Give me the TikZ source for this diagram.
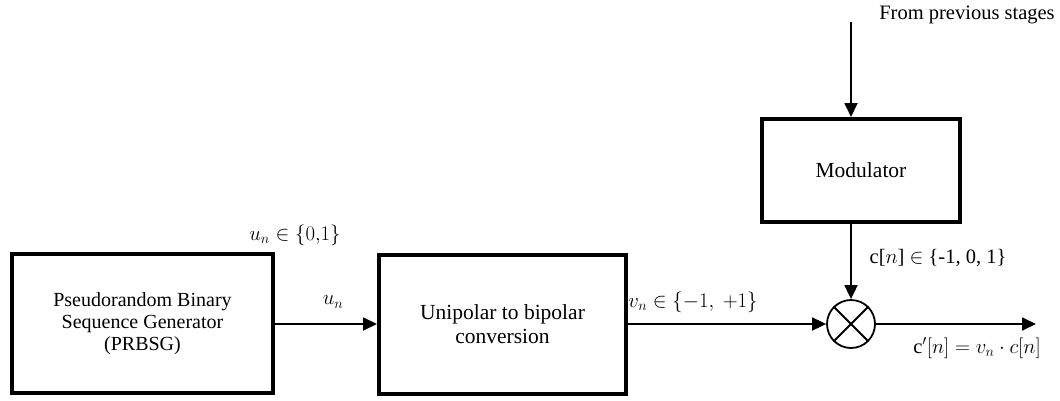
\documentclass[tikz,border=0pt]{standalone}
\usepackage{fontspec}
\setmainfont{Liberation Serif}
\usetikzlibrary{arrows.meta}
\begin{document}
\begin{tikzpicture}[x=1pt,y=-1pt,
  blk/.style={draw,line width=4pt,rectangle,align=center,inner sep=0pt,font=\fontsize{20}{22}\selectfont},
  blkc/.style={blk,font=\fontsize{21.5}{24}\selectfont},
  conn/.style={line width=1.8pt,-{Triangle[length=14pt,width=13pt]}},
  lbl/.style={inner sep=0pt,font=\fontsize{20.5}{22}\selectfont}]
\useasboundingbox (0,0) rectangle (1060,400);
\node[blk,minimum width=261pt,minimum height=139pt] (prbsg) at (142.5,323.5) {Pseudorandom Binary\\Sequence Generator\\(PRBSG)};
\node[blkc,minimum width=247pt,minimum height=139pt] (unip) at (502.5,324.5) {Unipolar to bipolar\\conversion};
\node[blkc,minimum width=198pt,minimum height=103pt] (mod) at (861,170.5) {Modulator};
\node[draw,circle,line width=1.8pt,minimum size=48pt,inner sep=0pt] (mul) at (851,324) {};
\draw[line width=1.8pt] (mul.north west) -- (mul.south east) (mul.north east) -- (mul.south west);
\coordinate (src) at (851,22);
\coordinate (out) at (1036,324);
\draw[conn] (src) -- (src |- mod.north);
\draw[conn] (mul |- mod.south) -- (mul.north);
\draw[conn] (prbsg.east |- 0,324) -- (unip.west |- 0,324);
\draw[conn] (unip.east |- mul) -- (mul.west);
\draw[conn] (mul.east) -- (out);
\node[lbl] (l1) at (295,235) {$u_n \in \{0{,}1\}$};
\node[lbl] (l2) at (333,302) {$u_n$};
\node[lbl] (l3) at (693,302) {$v_n \in \{-1,\ +1\}$};
\node[lbl] (l4) at (938,258) {c[$n$] $\in$ \{-1, 0, 1\}};
\node[lbl] (l5) at (977,348) {$\mathrm{c}'[n] = v_n \cdot c[n]$};
\node[lbl] (l6) at (967,15) {From previous stages};
\end{tikzpicture}
\end{document}
